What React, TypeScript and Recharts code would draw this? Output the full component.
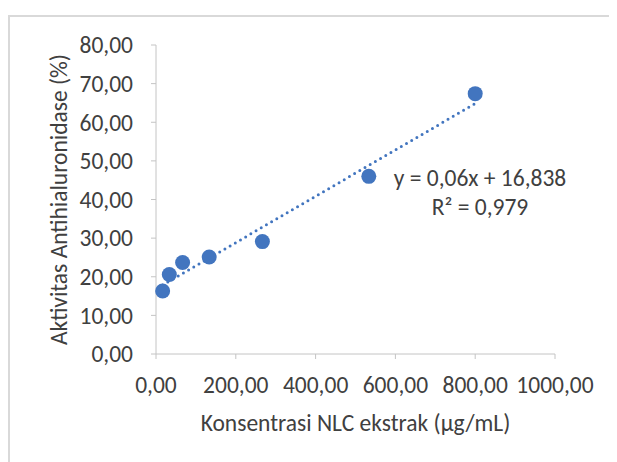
import { ScatterChart, Scatter, XAxis, YAxis } from 'recharts'

// concentrations (µg/mL) and measured activity (%)
const concentrations = [16.67, 33.33, 66.67, 133.33, 266.67, 533.33, 800]
const activity = [16.3, 20.6, 23.7, 25.1, 29.1, 46.0, 67.4]

const xTicks = [0, 200, 400, 600, 800, 1000]
const yTicks = [0, 10, 20, 30, 40, 50, 60, 70, 80]

// linear trendline as printed on the chart
const slope = 0.06
const intercept = 16.838
const rSquared = '0,979'

const points = concentrations.map((x, i) => ({ x, y: activity[i] }))
const trendX = [Math.min(...concentrations), Math.max(...concentrations)]
const trend = trendX.map((x) => ({ x, y: slope * x + intercept }))

const BLUE = '#4275bf'
const TEXT = '#404040'
const AXIS = '#c4c4c4'
const FONT = 'Carlito, Lato, sans-serif'
const FS = 23.5

const fmt = (v: number) => v.toFixed(2).replace('.', ',')

const Dot = (props: any) => <circle cx={props.cx} cy={props.cy} r={7.5} fill={BLUE} />
const NoDot = () => <g />

export default function App() {
  return (
    <div style={{ position: 'relative', width: 609, height: 454, fontFamily: FONT }}>
      <div
        style={{
          position: 'absolute',
          left: 0,
          top: 7,
          width: 609,
          height: 447,
          borderLeft: '2px solid #d9d9d9',
          borderTop: '2px solid #d9d9d9',
        }}
      />
      <div style={{ position: 'absolute', left: 0, top: 0 }}>
        <ScatterChart width={609} height={454} margin={{ top: 37, right: 62, left: 8, bottom: 18 }}>
          <XAxis
            type="number"
            dataKey="x"
            domain={[0, 1000]}
            ticks={xTicks}
            tickFormatter={fmt}
            height={90}
            tickSize={5}
            tickMargin={17}
            stroke={AXIS}
            tick={{ fill: TEXT, fontSize: FS, fontFamily: FONT }}
            label={{
              value: 'Konsentrasi NLC ekstrak (µg/mL)',
              position: 'insideBottom',
              offset: 13,
              fill: TEXT,
              fontSize: FS,
              fontFamily: FONT,
            }}
          />
          <YAxis
            type="number"
            dataKey="y"
            domain={[0, 80]}
            ticks={yTicks}
            tickFormatter={fmt}
            width={140}
            tickSize={5}
            tickMargin={18}
            stroke={AXIS}
            tick={{ fill: TEXT, fontSize: FS, fontFamily: FONT }}
            label={{
              value: 'Aktivitas Antihialuronidase (%)',
              angle: -90,
              position: 'insideLeft',
              offset: 50,
              dx: -7,
              fill: TEXT,
              fontSize: FS,
              fontFamily: FONT,
              style: { textAnchor: 'middle' },
            }}
          />
          <Scatter data={points} shape={Dot} isAnimationActive={false} />
          <Scatter
            data={trend}
            shape={NoDot}
            line={{ stroke: BLUE, strokeWidth: 3, strokeDasharray: '0 6', strokeLinecap: 'round' }}
            isAnimationActive={false}
          />
        </ScatterChart>
      </div>
      <div
        style={{
          position: 'absolute',
          left: 352,
          top: 156,
          width: 240,
          textAlign: 'center',
          fontSize: FS,
          lineHeight: '29px',
          color: TEXT,
        }}
      >
        <div>y = 0,06x + 16,838</div>
        <div>R² = {rSquared}</div>
      </div>
    </div>
  )
}
